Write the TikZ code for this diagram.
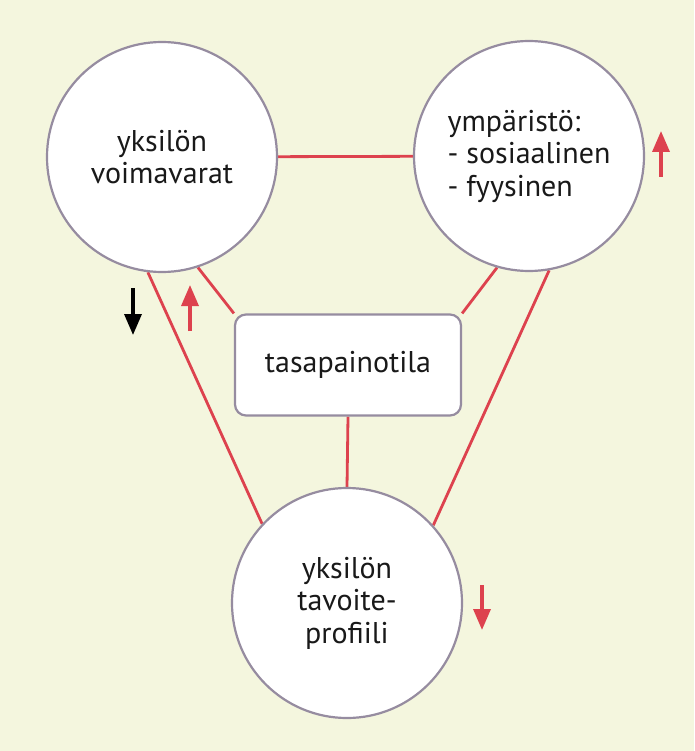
\documentclass[tikz,border=0pt]{standalone}
\usepackage{fontspec}
\setmainfont{PT Sans}
\usetikzlibrary{arrows.meta, positioning, backgrounds}
\definecolor{paper}{RGB}{244,246,222}
\definecolor{linkred}{RGB}{221,66,78}
\definecolor{rimgrey}{RGB}{150,140,160}
\definecolor{ink}{RGB}{25,25,25}

\begin{document}
\begin{tikzpicture}[x=1pt, y=-1pt,
  factor/.style={circle, draw=rimgrey, line width=2.2pt, fill=white,
    minimum size=230pt, inner sep=0pt, align=center, text=ink,
    font=\fontsize{30}{32.5}\selectfont},
  statebox/.style={rectangle, rounded corners=11pt, draw=rimgrey,
    line width=2.2pt, fill=white, minimum width=226pt, minimum height=101pt,
    text=ink, font=\fontsize{30}{32}\selectfont},
  link/.style={linkred, line width=2.8pt},
  trend/.style={line width=3.4pt, -{Triangle[width=17pt,length=21pt]}}]

  \useasboundingbox (0,0) rectangle (694,751);

  % the three factors
  \node[factor] (voima) at (162,157) {yksilön\\voimavarat};
  \node[factor, align=left] (ymp) at (529,156) {ympäristö:\\- sosiaalinen\\- fyysinen};
  \node[factor] (tavoite) at (347,603) {yksilön\\tavoite-\\profiili};

  % balance state in the middle
  \node[statebox] (tasa) at (348,365) {tasapainotila};

  % connections behind the nodes
  \begin{scope}[on background layer]
    \fill[paper] (0,0) rectangle (694,751);
    \draw[link] (voima) -- (ymp);
    \draw[link] (voima.-72) -- (tasa.north west);
    \draw[link] (ymp.-106) -- (tasa.north east);
    \draw[link] (voima.-97) -- (tavoite.137);
    \draw[link] (ymp.-80) -- (tavoite.42);
    \draw[link] (tasa.south) -- (tavoite.north);
  \end{scope}

  % trend arrows
  \draw[trend] (133,288) -- (133,335);
  \draw[trend, linkred] (190,331) -- (190,285);
  \draw[trend, linkred] (661,177) -- (661,131);
  \draw[trend, linkred] (482,585) -- (482,630);
\end{tikzpicture}
\end{document}
